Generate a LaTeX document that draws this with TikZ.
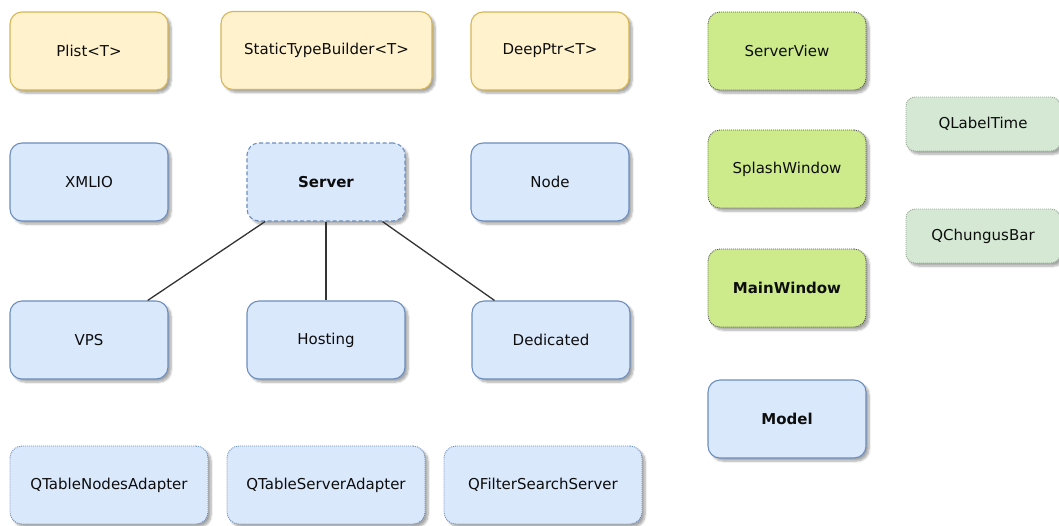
\documentclass[tikz,border=0pt]{standalone}
\usepackage{fontspec}
\setmainfont{DejaVu Sans}
\usetikzlibrary{shadows.blur}

\definecolor{yelfill}{HTML}{FFF2CC}
\definecolor{yelline}{HTML}{D6B656}
\definecolor{bluefill}{HTML}{DAE8FC}
\definecolor{blueline}{HTML}{6C8EBF}
\definecolor{limefill}{HTML}{CDEB8B}
\definecolor{limeline}{HTML}{555555}
\definecolor{mintfill}{HTML}{D5E8D4}
\definecolor{mintline}{HTML}{99AA99}
\definecolor{wire}{HTML}{333333}

\tikzset{
  box/.style={rectangle, rounded corners=12pt, line width=1.1pt,
    minimum width=158pt, minimum height=78pt, inner sep=0pt,
    font=\fontsize{15}{18}\selectfont, text=black!95,
    blur shadow={shadow xshift=3pt, shadow yshift=-3pt,
      shadow blur steps=6, shadow opacity=35}},
  yellowbox/.style={box, fill=yelfill, draw=yelline},
  bluebox/.style={box, fill=bluefill, draw=blueline},
  dashbox/.style={bluebox, dash pattern=on 4pt off 2.5pt},
  dotbox/.style={bluebox, minimum width=198pt, dash pattern=on 1pt off 1pt, line width=0.9pt},
  limebox/.style={box, fill=limefill, draw=limeline, dash pattern=on 1pt off 1pt, line width=0.9pt},
  mintbox/.style={box, fill=mintfill, draw=mintline, dash pattern=on 1pt off 1pt,
    line width=0.9pt, minimum width=154pt, minimum height=54pt, rounded corners=9pt},
  link/.style={draw=wire, line width=1.3pt}
}

\begin{document}
\begin{tikzpicture}[x=1pt, y=-1pt]
  \useasboundingbox (0,0) rectangle (1059,525);

  % template helpers
  \node[yellowbox] (plist)   at (89,51)    {Plist<T>};
  \node[yellowbox, minimum width=211pt] (stb) at (326.5,50.5) {StaticTypeBuilder<T>};
  \node[yellowbox] (deepptr) at (550,51)   {DeepPtr<T>};

  % model classes
  \node[bluebox] (xmlio) at (89,182)  {XMLIO};
  \node[dashbox] (server) at (326,182) {\textbf{Server}};
  \node[bluebox] (node)  at (550,182) {Node};

  \node[bluebox] (vps)       at (89,340)  {VPS};
  \node[bluebox] (hosting)   at (326,340) {Hosting};
  \node[bluebox] (dedicated) at (551,340) {Dedicated};

  % adapters
  \node[dotbox] (qtna) at (109,485) {QTableNodesAdapter};
  \node[dotbox] (qtsa) at (326,485) {QTableServerAdapter};
  \node[dotbox] (qfss) at (543,485) {QFilterSearchServer};

  % views
  \node[limebox] (serverview) at (787,51)  {ServerView};
  \node[limebox] (splash)     at (787,169) {SplashWindow};
  \node[limebox] (mainwin)    at (787,288) {\textbf{MainWindow}};
  \node[bluebox] (model)      at (787,419) {\textbf{Model}};

  % widgets
  \node[mintbox] (qlabeltime) at (983,124) {QLabelTime};
  \node[mintbox] (qchungus)   at (983,236) {QChungusBar};

  % inheritance from Server
  \draw[link] (server.213) -- (vps.34);
  \draw[link] (server.south) -- (hosting.north);
  \draw[link] (server.325) -- (dedicated.145);
\end{tikzpicture}
\end{document}
